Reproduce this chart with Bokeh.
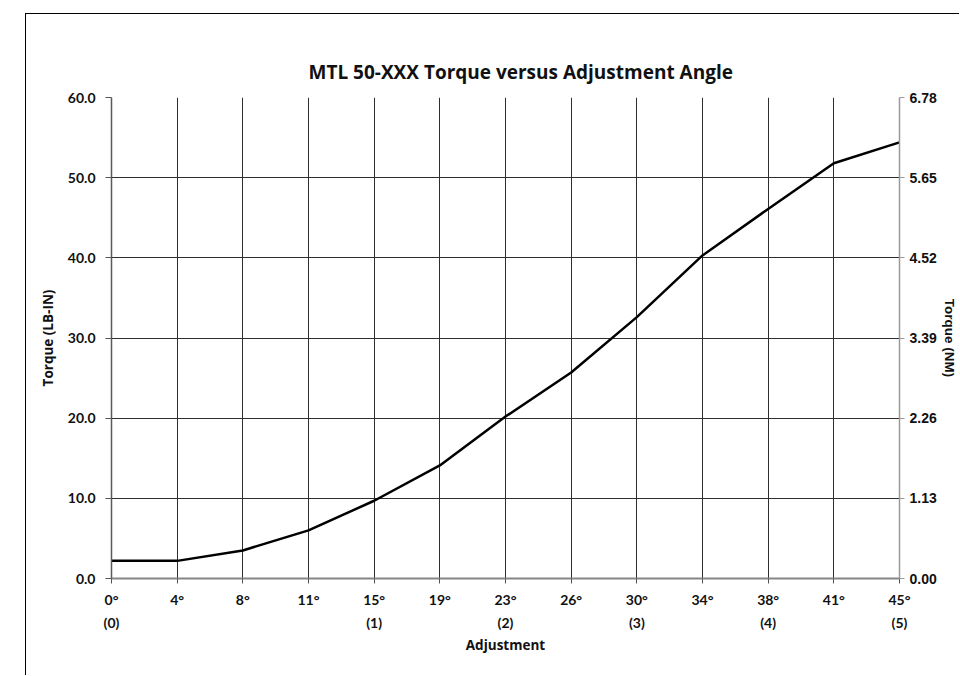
from bokeh.plotting import figure
from bokeh.models import (FixedTicker, LinearAxis, Range1d, PrintfTickFormatter)
from bokeh.embed import file_html
from bokeh.resources import INLINE

# ---- data ----
angle_labels = ["0°", "4°", "8°", "11°", "15°", "19°", "23°", "26°", "30°", "34°", "38°", "41°", "45°"]
torque_lbin = [2.2, 2.2, 3.5, 6.0, 9.7, 14.1, 20.2, 25.7, 32.6, 40.3, 46.1, 51.8, 54.4]
turn_angles = ["0°", "15°", "23°", "30°", "38°", "45°"]
turn_labels = ["(0)", "(1)", "(2)", "(3)", "(4)", "(5)"]
lbin_ticks = [0, 10, 20, 30, 40, 50, 60]
nm_ticks = [0.00, 1.13, 2.26, 3.39, 4.52, 5.65, 6.78]

x_pos = list(range(len(angle_labels)))
turn_pos = [angle_labels.index(a) for a in turn_angles]

FONT = "Open Sans"
TFONT = "Lato"

p = figure(width=934, height=662, output_backend="svg", toolbar_location=None,
           x_range=Range1d(0, len(angle_labels) - 1), y_range=Range1d(0, 60),
           min_border_left=85, min_border_right=61, min_border_top=83, min_border_bottom=98)
p.margin = (13, 0, 0, 25)
p.styles = {"border-top": "1px solid #000000", "border-left": "1px solid #000000",
            "border-right": "0px none", "border-bottom": "0px none"}
p.outline_line_color = None
p.background_fill_color = "white"
p.border_fill_color = "white"

p.title.text = "MTL 50-XXX Torque versus Adjustment Angle"
p.title.text_font = FONT
p.title.text_font_size = "19px"
p.title.text_font_style = "bold"
p.title.text_color = "#111111"
p.title.align = "left"
p.title.offset = 197
p.title.standoff = 26

p.extra_y_ranges = {"nm": Range1d(0, nm_ticks[-1])}

# x axis (angles)
xa = p.xaxis[0]
xa.ticker = FixedTicker(ticks=x_pos)
xa.major_label_overrides = {i: s for i, s in zip(x_pos, angle_labels)}
xa.major_label_text_font = TFONT
xa.major_label_text_font_size = "14px"
xa.major_label_text_font_style = "bold"
xa.major_label_text_color = "#111111"
xa.major_tick_out = 5
xa.major_tick_in = 0
xa.minor_tick_out = 0
xa.minor_tick_in = 0
xa.major_label_standoff = 7
xa.axis_line_color = "#868686"
xa.axis_line_width = 2
xa.major_tick_line_color = "#555555"

# second row of x labels (turns)
xa2 = LinearAxis(ticker=FixedTicker(ticks=turn_pos),
                 major_label_overrides={i: s for i, s in zip(turn_pos, turn_labels)})
xa2.axis_line_color = None
xa2.major_tick_line_color = None
xa2.minor_tick_line_color = None
xa2.major_tick_out = 0
xa2.major_tick_in = 0
xa2.major_label_standoff = 3
xa2.major_label_text_font = TFONT
xa2.major_label_text_font_size = "14px"
xa2.major_label_text_font_style = "bold"
xa2.major_label_text_color = "#111111"
xa2.axis_label = "Adjustment"
xa2.axis_label_text_font = FONT
xa2.axis_label_text_font_size = "13.5px"
xa2.axis_label_text_font_style = "bold"
xa2.axis_label_text_color = "#111111"
xa2.axis_label_standoff = 2
p.add_layout(xa2, "below")

# left axis
ya = p.yaxis[0]
ya.ticker = FixedTicker(ticks=lbin_ticks)
ya.formatter = PrintfTickFormatter(format="%.1f")
ya.axis_label = "Torque (LB-IN)"
ya.axis_label_text_font = FONT
ya.axis_label_text_font_size = "13.5px"
ya.axis_label_text_font_style = "bold"
ya.axis_label_text_color = "#111111"
ya.axis_label_standoff = 8
ya.major_label_text_font = TFONT
ya.major_label_text_font_size = "14px"
ya.major_label_text_font_style = "bold"
ya.major_label_text_color = "#111111"
ya.major_tick_out = 6
ya.major_tick_in = 0
ya.minor_tick_out = 0
ya.minor_tick_in = 0
ya.major_label_standoff = 10
ya.axis_line_color = "#5a5a5a"
ya.axis_line_width = 1.5
ya.major_tick_line_color = "#555555"

# right axis (N·m)
yr = LinearAxis(y_range_name="nm", ticker=FixedTicker(ticks=nm_ticks),
                formatter=PrintfTickFormatter(format="%.2f"))
yr.axis_label = "Torque (NM)"
yr.axis_label_text_font = "Liberation Sans"
yr.axis_label_text_font_size = "13.5px"
yr.axis_label_text_font_style = "bold"
yr.axis_label_text_color = "#111111"
yr.axis_label_standoff = 2
yr.major_label_text_font = "Liberation Sans"
yr.major_label_text_font_size = "14px"
yr.major_label_text_font_style = "bold"
yr.major_label_text_color = "#111111"
yr.major_tick_out = 5
yr.major_tick_in = 0
yr.minor_tick_out = 0
yr.minor_tick_in = 0
yr.major_label_standoff = 5
yr.axis_line_color = "#9a9a9a"
yr.axis_line_width = 1.5
yr.major_tick_line_color = "#9a9a9a"
p.add_layout(yr, "right")

# grids
p.xgrid.ticker = FixedTicker(ticks=x_pos)
p.xgrid.grid_line_color = "#2e2e2e"
p.xgrid.grid_line_width = 1
p.ygrid.ticker = FixedTicker(ticks=lbin_ticks)
p.ygrid.grid_line_color = "#2e2e2e"
p.ygrid.grid_line_width = 1

# curve
p.line(x_pos, torque_lbin, line_color="black", line_width=2.5, line_join="round")

open("out.html", "w").write(file_html(p, INLINE))
